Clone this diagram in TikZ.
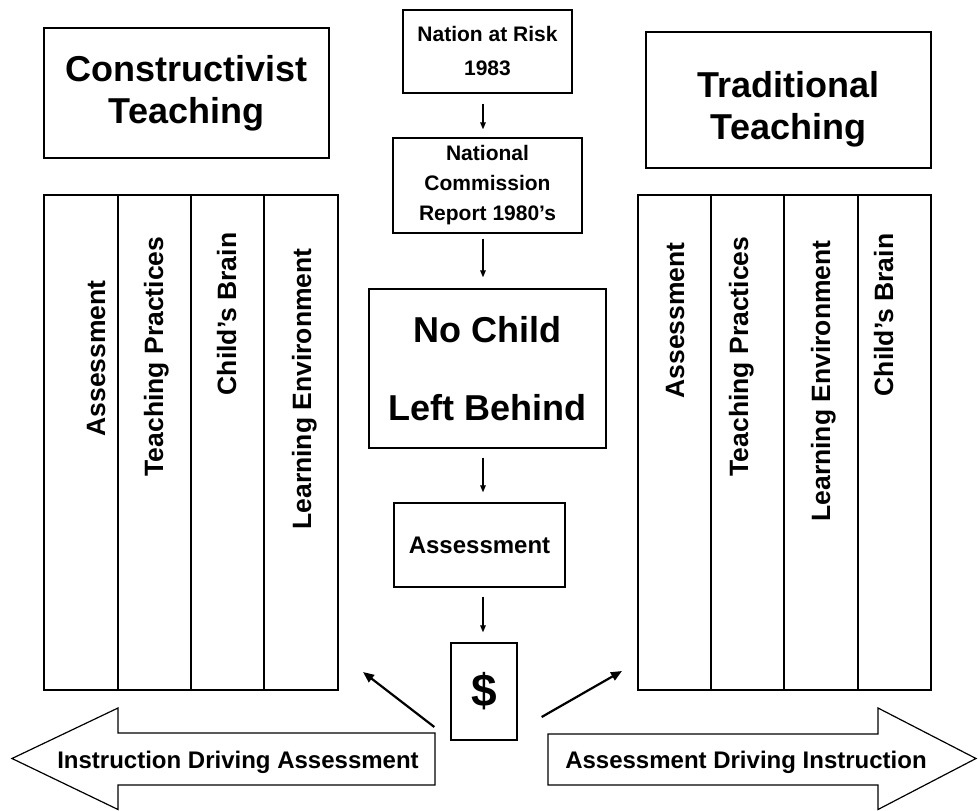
\documentclass[tikz,border=0pt]{standalone}
\usepackage{fontspec}
\setmainfont{Liberation Sans}
\usetikzlibrary{arrows.meta,calc}
\begin{document}
\begin{tikzpicture}[x=1pt,y=-1pt,
  box/.style={draw, line width=1.3pt, inner sep=0pt, align=center},
  bigtxt/.style={font=\bfseries\fontsize{36}{42}\selectfont, align=center},
  vlab/.style={rotate=90, anchor=base, inner sep=0pt, font=\bfseries\fontsize{26.5}{30}\selectfont},
  arrlbl/.style={anchor=base, inner sep=0pt, font=\bfseries\fontsize{24}{28}\selectfont},
  arr/.style={line width=1.2pt, -{Triangle[length=7pt,width=5.5pt]}},
  darr/.style={line width=2.2pt, -{Triangle[length=11pt,width=9pt]}},
  panelline/.style={line width=1.9pt},
  divline/.style={line width=1.1pt},
  bigarrow/.style={draw, line width=1.2pt, fill=white, line join=miter}
]
\useasboundingbox (0,0) rectangle (978,811);
\fill[white] (0,0) rectangle (978,811);

% top boxes
\node[box, bigtxt, minimum width=285pt, minimum height=130pt] (cbox) at (186.5,93) {Constructivist\\Teaching};
\node[box, minimum width=285pt, minimum height=136pt] (tbox) at (788.5,100) {};
\node[bigtxt, inner sep=0pt] (ttext) at ([yshift=-9pt]tbox.center) {Traditional\\Teaching};

% center column
\coordinate (xc) at (483,0);
\node[box, font=\bfseries\fontsize{21}{34}\selectfont, minimum width=169pt, minimum height=83pt] (nation) at (487.5,51.5) {Nation at Risk\\1983};
\node[box, font=\bfseries\fontsize{21}{30}\selectfont, minimum width=189pt, minimum height=95pt] (natl) at (487.5,185.5) {National\\Commission\\Report 1980’s};
\node[box, font=\bfseries\fontsize{36}{78}\selectfont, minimum width=237pt, minimum height=159pt] (ncl) at (487.5,368.5) {No Child\\Left Behind};
\node[box, font=\bfseries\fontsize{24}{28}\selectfont, minimum width=171pt, minimum height=84pt] (assess) at (479.5,545) {Assessment};
\node[box, font=\bfseries\fontsize{46}{50}\selectfont, minimum width=66pt, minimum height=97pt] (dollar) at (484,691.5) {\$};

\draw[arr, shorten <=10pt, shorten >=8pt] (nation.south -| xc) -- (natl.north -| xc);
\draw[arr, shorten <=5pt, shorten >=11pt] (natl.south -| xc) -- (ncl.north -| xc);
\draw[arr, shorten <=9pt, shorten >=10pt] (ncl.south -| xc) -- (assess.north -| xc);
\draw[arr, shorten <=9pt, shorten >=10pt] (assess.south -| xc) -- (dollar.north -| xc);

% panels
\draw[panelline] (44,195) rectangle (338,690);
\foreach \x in {118,191,264} \draw[divline] (\x,195) -- (\x,690);
\draw[panelline] (638,195) rectangle (931,690);
\foreach \x in {711,784,858} \draw[divline] (\x,195) -- (\x,690);

\node[vlab] (la) at (105,358.5) {Assessment};
\node[vlab] (lt) at (163,356.5) {Teaching Practices};
\node[vlab] (lc) at (236,314) {Child’s Brain};
\node[vlab] (ll) at (311,389) {Learning Environment};
\node[vlab] (ra) at (684,320.5) {Assessment};
\node[vlab] (rt) at (748,356.5) {Teaching Practices};
\node[vlab] (rl) at (830,381) {Learning Environment};
\node[vlab] (rc) at (893,315) {Child’s Brain};

% diagonal arrows
\coordinate (dlend) at (363,672);
\coordinate (drend) at (622,671);
\draw[darr] ([shift={(-16,35.5)}]dollar.west) -- (dlend);
\draw[darr] ([shift={(24,25.5)}]dollar.east) -- (drend);

% big block arrows
\draw[bigarrow] (435,733) -- (118,733) -- (118,708) -- (12,758.5) -- (118,809.5) -- (118,785) -- (435,785) -- cycle;
\node[arrlbl] (ida) at (238,768) {Instruction Driving Assessment};
\draw[bigarrow] (548,734) -- (878,734) -- (878,708) -- (976,758.5) -- (878,809.5) -- (878,785) -- (548,785) -- cycle;
\node[arrlbl] (adi) at (746,768) {Assessment Driving Instruction};
\end{tikzpicture}
\end{document}
